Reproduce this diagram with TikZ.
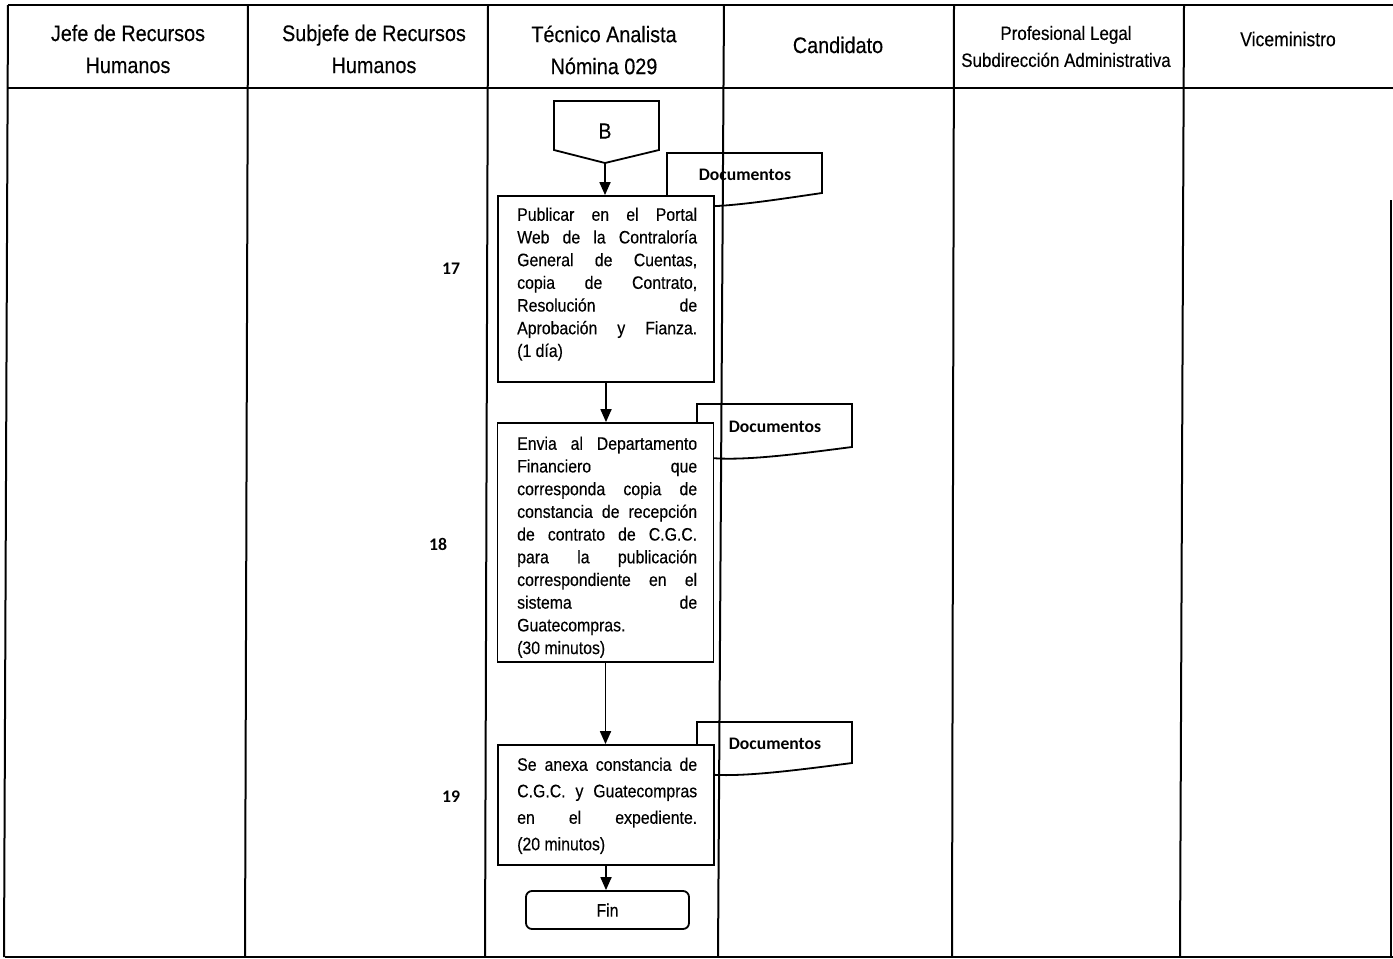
\documentclass[tikz,border=0pt]{standalone}
\usepackage{fontspec}
\setmainfont{Liberation Sans}[FakeStretch=0.88,FakeBold=0.3]
\newfontfamily\calfont{Carlito}
\usetikzlibrary{arrows.meta}
\tikzset{
 tbl/.style={line width=2pt},
 box/.style={draw, line width=1.8pt, fill=white, inner sep=0pt},
 doc/.style={draw, line width=1.8pt},
 arr/.style={line width=1.8pt, -{Triangle[length=13pt,width=11pt]}},
 hdr/.style={font=\fontsize{22.5}{32}\selectfont, align=center, inner sep=0pt},
 body/.style={font=\fontsize{18}{22.7}\selectfont, align=left, inner sep=0pt, anchor=north west},
 num/.style={font=\calfont\bfseries\fontsize{17.7}{20}\selectfont, inner sep=0pt},
}
\newcommand\jl[1]{\makebox[180pt][s]{#1}}
\begin{document}
\begin{tikzpicture}[x=1pt,y=-1pt]
\useasboundingbox (0,0) rectangle (1393,959);
% table
\draw[tbl] (8,5) -- (1393,5);
\draw[tbl] (8,88) -- (1393,88);
\draw[tbl] (5,957) -- (1393,957);
\draw[tbl] (8,5) -- (4,957);
\draw[tbl] (248,5) -- (245,957);
\draw[tbl] (488,5) -- (485,957);
\draw[tbl] (724,5) -- (718,957);
\draw[tbl] (954,5) -- (952,957);
\draw[tbl] (1184,5) -- (1180,957);
\draw[tbl] (1391,200) -- (1391,957);
% headers
\node[hdr] (h1) at (128,49) {Jefe de Recursos\\Humanos};
\node[hdr] (h2) at (374,49) {Subjefe de Recursos\\Humanos};
\node[hdr] (h3) at (604,50) {Técnico Analista\\Nómina 029};
\node[hdr] (h4) at (838,45) {Candidato};
\node[font=\fontsize{19.3}{27}\selectfont, align=center, inner sep=0pt] (h5) at (1066,46.5) {Profesional Legal\\Subdirección Administrativa};
\node[font=\fontsize{20}{24}\selectfont, inner sep=0pt] (h6) at (1288,39) {Viceministro};
% documents
\draw[doc] (667,203) -- (667,153) -- (822,153) -- (822,193) .. controls (760,202) and (700,212) .. (667,203);
\draw[doc] (697,456) -- (697,404) -- (852,404) -- (852,447) .. controls (790,455) and (730,463) .. (697,456);
\draw[doc] (697,773) -- (697,722) -- (852,722) -- (852,763) .. controls (790,771) and (730,779) .. (697,773);
\node[num, font=\calfont\bfseries\fontsize{17.6}{20}\selectfont] (d1) at (745,175) {Documentos};
\node[num, font=\calfont\bfseries\fontsize{17.6}{20}\selectfont] (d2) at (775,427) {Documentos};
\node[num, font=\calfont\bfseries\fontsize{17.6}{20}\selectfont] (d3) at (775,744) {Documentos};
% off-page connector B
\draw[doc] (554,101) -- (659,101) -- (659,150) -- (605,163) -- (554,150) -- cycle;
\node[font=\fontsize{22}{24}\selectfont, inner sep=0pt] (B) at (605,131) {B};
\coordinate (Bt) at (605,163);
% process boxes
\node[box, minimum width=216pt, minimum height=186pt] (p17) at (606,289) {};
\node[box, minimum width=216pt, minimum height=239pt] (p18) at (605.5,542.5) {};
\node[box, minimum width=216pt, minimum height=120pt] (p19) at (606,805) {};
\node[box, rounded corners=6pt, minimum width=163pt, minimum height=38pt, font=\fontsize{18}{22}\selectfont] (fin) at (607.5,910) {Fin};
\node[body] (t17) at (517,207.5) {\jl{Publicar en el Portal}\\\jl{Web de la Contraloría}\\\jl{General de Cuentas,}\\\jl{copia de Contrato,}\\\jl{Resolución de}\\\jl{Aprobación y Fianza.}\\(1 día)};
\node[body] (t18) at (517,436.5) {\jl{Envia al Departamento}\\\jl{Financiero que}\\\jl{corresponda copia de}\\\jl{constancia de recepción}\\\jl{de contrato de C.G.C.}\\\jl{para la publicación}\\\jl{correspondiente en el}\\\jl{sistema de}\\Guatecompras.\\(30 minutos)};
\node[body, font=\fontsize{18}{26.5}\selectfont] (t19) at (517,757.5) {\jl{Se anexa constancia de}\\\jl{C.G.C. y Guatecompras}\\\jl{en el expediente.}\\(20 minutos)};
% arrows
\draw[arr] (Bt) -- (Bt |- p17.north);
\draw[arr] (p17.south) -- (p17.south |- p18.north);
\draw[arr] (p18.south) -- (p18.south |- p19.north);
\draw[arr] (p19.south) -- (p19.south |- fin.north);
% step numbers
\node[num] (n17) at (451,269) {17};
\node[num] (n18) at (438,544) {18};
\node[num] (n19) at (451,797) {19};
\end{tikzpicture}
\end{document}
